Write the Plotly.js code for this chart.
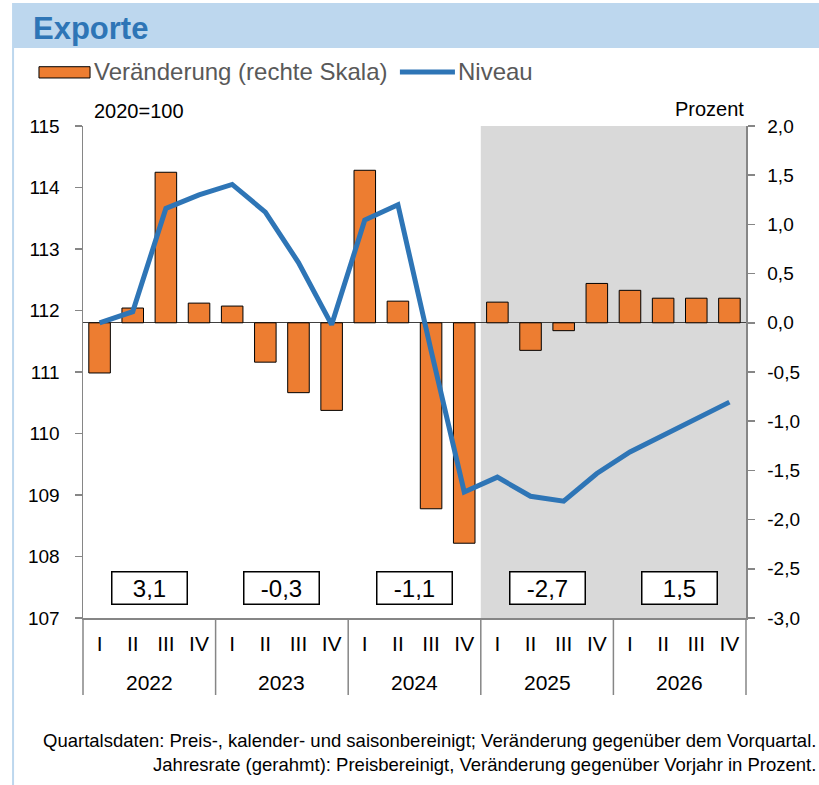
<!DOCTYPE html>
<html>
<head>
<meta charset="utf-8">
<script src="https://cdn.plot.ly/plotly-3.0.1.min.js"></script>
<style>
  html, body { margin: 0; padding: 0; background: #ffffff; }
  #chart { width: 819px; height: 785px; }
</style>
</head>
<body>
<div id="chart"></div>
<script>
// ---- data ----
var years = ['2022', '2023', '2024', '2025', '2026'];
var quarterLabels = ['I', 'II', 'III', 'IV'];
var veraenderung = [-0.51, 0.15, 1.53, 0.20, 0.17, -0.40, -0.71, -0.89, 1.55, 0.22, -1.89, -2.24, 0.21, -0.28, -0.08, 0.40, 0.33, 0.25, 0.25, 0.25];
var niveau = [111.80, 111.98, 113.66, 113.88, 114.05, 113.60, 112.78, 111.77, 113.47, 113.72, 111.35, 109.05, 109.29, 108.98, 108.90, 109.35, 109.70, 109.97, 110.23, 110.51];
var jahresrate = [3.1, -0.3, -1.1, -2.7, 1.5];
var forecastStartYear = '2025';
var rightTicks = [-3, -2.5, -2, -1.5, -1, -0.5, 0, 0.5, 1, 1.5, 2];
var leftTicks = [107, 108, 109, 110, 111, 112, 113, 114, 115];

// ---- helpers ----
function fmt(v, d) { return v.toFixed(d).replace('.', ','); }

var xIds = [], xQuarter = [], xYear = [];
years.forEach(function (y) {
  quarterLabels.forEach(function (q) { xIds.push(y + ' ' + q); xQuarter.push(q); xYear.push(y); });
});
var nPts = xIds.length;
var perYear = quarterLabels.length;
var forecastIdx = xYear.indexOf(forecastStartYear);

var FONT = 'Liberation Sans, Arial, sans-serif';
var AXC = '#868686';

var traces = [
  {
    type: 'bar',
    name: 'Veränderung (rechte Skala)',
    x: xIds,
    y: veraenderung,
    yaxis: 'y',
    width: 0.65,
    marker: { color: '#ED7D31', line: { color: '#000000', width: 1 } },
    hoverinfo: 'y'
  },
  {
    type: 'scatter',
    mode: 'lines',
    name: 'Niveau',
    x: xIds,
    y: niveau,
    yaxis: 'y2',
    line: { color: '#2E75B6', width: 5 },
    hoverinfo: 'y'
  }
];

var annotations = [
  { xref: 'paper', yref: 'paper', x: 0.014, y: 1.031, xanchor: 'left', yanchor: 'middle',
    text: '2020=100', showarrow: false, font: { family: FONT, size: 20, color: '#000' } },
  { xref: 'paper', yref: 'paper', x: 1.0, y: 1.035, xanchor: 'right', yanchor: 'middle',
    text: 'Prozent', showarrow: false, font: { family: FONT, size: 20, color: '#000' } },
  { xref: 'paper', yref: 'paper', x: -0.0785, y: 1.199, xanchor: 'left', yanchor: 'middle',
    text: '<b>Exporte</b>', showarrow: false, font: { family: FONT, size: 31, color: '#2E75B6' } },
  // legend texts
  { xref: 'paper', yref: 'paper', x: 0.0136, y: 1.1098, xanchor: 'left', yanchor: 'middle',
    text: 'Veränderung (rechte Skala)', showarrow: false, font: { family: FONT, size: 24, color: '#595959' } },
  { xref: 'paper', yref: 'paper', x: 0.5626, y: 1.1098, xanchor: 'left', yanchor: 'middle',
    text: 'Niveau', showarrow: false, font: { family: FONT, size: 24, color: '#595959' } },
  { xref: 'paper', yref: 'paper', x: 1.108, y: -0.274, xanchor: 'right', yanchor: 'middle', align: 'right',
    text: 'Quartalsdaten: Preis-, kalender- und saisonbereinigt; Veränderung gegenüber dem Vorquartal.<br>Jahresrate (gerahmt): Preisbereinigt, Veränderung gegenüber Vorjahr in Prozent.',
    showarrow: false, font: { family: FONT, size: 18.5, color: '#000' } }
];

var shapes = [
  // header band
  { type: 'rect', xref: 'paper', yref: 'paper', x0: -0.107, x1: 1.12, y0: 1.1585, y1: 1.2500,
    fillcolor: '#BDD7EE', line: { width: 0 }, layer: 'below' },
  // left border line
  { type: 'line', xref: 'paper', yref: 'paper', x0: -0.1055, x1: -0.1055, y0: -0.35, y1: 1.1585,
    line: { color: '#BDD7EE', width: 2 }, layer: 'below' },
  // forecast shading
  { type: 'rect', xref: 'paper', yref: 'paper', x0: forecastIdx / nPts, x1: 1, y0: 0, y1: 1,
    fillcolor: '#D9D9D9', line: { width: 0 }, layer: 'below' },
  // legend symbols
  { type: 'rect', xref: 'paper', yref: 'paper', x0: -0.0664, x1: 0.0106, y0: 1.0976, y1: 1.1205,
    fillcolor: '#ED7D31', line: { color: '#000', width: 1 } },
  { type: 'line', xref: 'paper', yref: 'paper', x0: 0.478, x1: 0.561, y0: 1.1098, y1: 1.1098,
    line: { color: '#2E75B6', width: 5 } }
];

// annual rate boxes, year labels, year dividers
years.forEach(function (y, i) {
  var center = (i * perYear + perYear / 2) / nPts;
  annotations.push({
    xref: 'paper', yref: 'y', x: center, y: -2.70,
    xanchor: 'center', yanchor: 'middle',
    text: fmt(jahresrate[i], 1),
    showarrow: false,
    width: 74, height: 31,
    bgcolor: '#ffffff', bordercolor: '#000000', borderwidth: 1.5, borderpad: 0,
    font: { family: FONT, size: 24, color: '#000' }
  });
  annotations.push({
    xref: 'paper', yref: 'paper', x: center, y: -0.132,
    xanchor: 'center', yanchor: 'middle', text: y, showarrow: false,
    font: { family: FONT, size: 21, color: '#000' }
  });
});
for (var k = 0; k <= years.length; k++) {
  shapes.push({ type: 'line', xref: 'paper', yref: 'paper',
    x0: k * perYear / nPts, x1: k * perYear / nPts, y0: 0, y1: -0.1565,
    line: { color: AXC, width: 1.5 } });
}

var layout = {
  width: 819,
  height: 785,
  margin: { l: 83, r: 73, t: 126, b: 167 },
  paper_bgcolor: '#ffffff',
  plot_bgcolor: 'rgba(0,0,0,0)',
  font: { family: FONT, size: 19, color: '#000' },
  showlegend: false,
  xaxis: {
    type: 'category',
    range: [-0.5, nPts - 0.5],
    tickvals: xIds, ticktext: xQuarter,
    showline: true, linecolor: AXC, linewidth: 1.5,
    showgrid: false, zeroline: false, ticks: '',
    ticklabelstandoff: 6,
    tickfont: { family: FONT, size: 21, color: '#000' }
  },
  yaxis: {
    side: 'right',
    range: [-3, 2],
    tickvals: rightTicks, ticktext: rightTicks.map(function (v) { return fmt(v, 1); }),
    showline: true, linecolor: AXC, linewidth: 1.5,
    ticks: 'outside', ticklen: 7, tickcolor: AXC, tickwidth: 1.5,
    ticklabelstandoff: 9,
    showgrid: false,
    zeroline: true, zerolinecolor: '#404040', zerolinewidth: 1,
    tickfont: { family: FONT, size: 19, color: '#000' }
  },
  yaxis2: {
    overlaying: 'y', side: 'left',
    range: [107, 115],
    tickvals: leftTicks, ticktext: leftTicks.map(function (v) { return String(v); }),
    showline: true, linecolor: AXC, linewidth: 1.5,
    ticks: 'outside', ticklen: 7, tickcolor: AXC, tickwidth: 1.5,
    ticklabelstandoff: 11,
    showgrid: false, zeroline: false,
    tickfont: { family: FONT, size: 19, color: '#000' }
  },
  annotations: annotations,
  shapes: shapes
};

Plotly.newPlot('chart', traces, layout, { displayModeBar: false, staticPlot: true });
</script>
</body>
</html>
